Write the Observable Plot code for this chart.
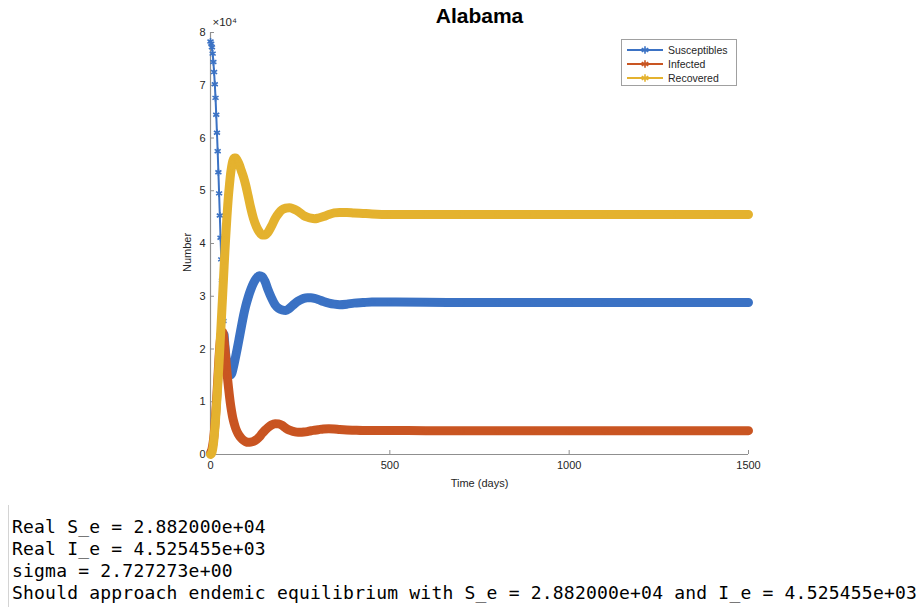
<!DOCTYPE html>
<html><head><meta charset="utf-8">
<script src="https://cdn.jsdelivr.net/npm/d3@7"></script>
<script src="https://cdn.jsdelivr.net/npm/@observablehq/plot@0.6"></script>
<style>
body{margin:0;background:#fff;}
#wrap{position:relative;width:922px;}
#console{margin-left:8px;border-left:1px solid #d4d4d4;padding:11px 0 0 3px;height:91px;font-family:"DejaVu Sans Mono",monospace;font-size:18px;letter-spacing:0.2px;line-height:22px;color:#000;white-space:pre;overflow:hidden;}
</style>
</head><body>
<div id="wrap"></div>
<div id="console"></div>
<script>
const days = [0,2,4,6,8,10,12,14,16,18,20,22,24,26,28,30,32,34,36,38,40,42,44,46,48,50,
  53,56,59,62,66,70,75,80,86,92,98,105,112,120,128,136,144,152,160,
  170,180,190,200,210,220,230,240,250,260,270,280,290,300,
  315,330,345,360,380,400,425,450,
  500,600,700,800,900,1000,1100,1200,1300,1400,1500];
const susceptibles = [78300,77900,77200,76000,74400,72500,70200,67600,64400,61000,57500,53500,49500,45300,41100,37000,33000,29100,25300,22700,20700,19200,17900,17000,16300,15800,
  15300,15100,15300,16000,17200,18500,20200,22000,24200,26300,28100,29800,31200,32500,33400,33900,33700,32800,31300,
  29700,28400,27700,27400,27300,27700,28300,28900,29300,29600,29700,29700,29600,29400,
  29000,28700,28500,28400,28500,28700,28800,28900,
  28900,28850,28820,28820,28820,28820,28820,28820,28820,28820,28820];
const infected = [300,600,1000,1700,2600,3800,5400,7300,9300,11500,13900,16300,18600,20500,22000,22900,23300,23200,22600,21500,20200,18700,17100,15600,14100,12800,
  11000,9400,8100,7000,5900,5000,4200,3600,3100,2700,2450,2300,2350,2500,2800,3300,4000,4600,5100,
  5600,5850,5800,5500,5000,4600,4400,4250,4200,4250,4350,4500,4600,4700,
  4850,4900,4850,4750,4650,4600,4550,4550,
  4530,4525,4525,4525,4525,4525,4525,4525,4525,4525,4525];
const recovered = [0,100,400,1000,1900,3200,4800,6600,8600,10700,12900,15200,17600,20100,22700,25200,27800,30400,33000,35700,38300,40700,43000,45200,47200,49000,
  51200,53200,54600,55600,56200,56200,55700,55000,53800,52600,51100,49000,46800,44700,43200,42200,41600,41600,42100,
  43300,44700,45700,46400,46700,46800,46600,46300,45800,45300,45000,44800,44700,44800,
  45100,45500,45800,45900,45900,45800,45700,45600,
  45500,45500,45500,45500,45500,45500,45500,45500,45500,45500,45500];
const seriesNames = ["Susceptibles","Infected","Recovered"];
const seriesColors = ["#3b72c4","#c95522","#e4b22f"];
const bandFromDay = [38, 0, 0];
const xTicks = [0,500,1000,1500];
const yTicks = [0,10000,20000,30000,40000,50000,60000,70000,80000];
const titleText = "Alabama";
const xLabel = "Time (days)";
const yLabel = "Number";
const exponentLabel = "×10⁴";
const consoleLines = [
  "Real S_e = 2.882000e+04",
  "Real I_e = 4.525455e+03",
  "sigma = 2.727273e+00",
  "Should approach endemic equilibrium with S_e = 2.882000e+04 and I_e = 4.525455e+03"
];

const values = [susceptibles, infected, recovered];
const rows = [];
seriesNames.forEach((name, k) => days.forEach((d, i) => rows.push({series: name, k, day: d, value: values[k][i]})));

const axisColor = "#8f8f8f";
const marks = [
  Plot.ruleY([0], {stroke: axisColor, strokeWidth: 1.2}),
  Plot.ruleX([0], {stroke: axisColor, strokeWidth: 1.2}),
  Plot.axisX({ticks: xTicks, tickSize: -4, text: null, stroke: axisColor, label: null}),
  Plot.axisY({ticks: yTicks, tickSize: -4, text: null, stroke: axisColor, label: null}),
  Plot.axisX({ticks: xTicks, tickSize: 0, tickPadding: 7, tickFormat: d => String(d), label: null, fill: "#262626", fontSize: 11}),
  Plot.axisY({ticks: yTicks, tickSize: 0, tickPadding: 5, tickFormat: d => String(d / 10000), label: null, fill: "#262626", fontSize: 11})
];
seriesNames.forEach((name, k) => {
  const data = rows.filter(r => r.k === k);
  const band = data.filter(r => r.day >= bandFromDay[k]);
  marks.push(Plot.line(band, {x: "day", y: "value", stroke: seriesColors[k], strokeWidth: 9, curve: "monotone-x", strokeLinejoin: "round", strokeLinecap: "round"}));
  marks.push(Plot.line(data, {x: "day", y: "value", stroke: seriesColors[k], strokeWidth: 2, curve: "monotone-x"}));
  marks.push(Plot.dot(data, {x: "day", y: "value", stroke: seriesColors[k], symbol: "asterisk", r: 3.3, strokeWidth: 1.6}));
});
marks.push(Plot.text([titleText], {frameAnchor: "top", dy: -16, fontWeight: "bold", fontSize: 21, lineAnchor: "middle", fill: "#000"}));
marks.push(Plot.text([exponentLabel], {frameAnchor: "top-left", textAnchor: "start", dx: 2, dy: -10, fontSize: 11.5, lineAnchor: "middle", fill: "#262626"}));
marks.push(Plot.text([yLabel], {frameAnchor: "left", textAnchor: "middle", rotate: -90, dx: -23, dy: 9, fontSize: 11, fill: "#262626"}));
marks.push(Plot.text([xLabel], {frameAnchor: "bottom", textAnchor: "middle", dy: 32, fontSize: 11, fill: "#262626"}));

const chart = Plot.plot({
  width: 922, height: 505,
  marginLeft: 210, marginRight: 174, marginTop: 32, marginBottom: 51,
  x: {domain: [0, 1500]},
  y: {domain: [0, 80000]},
  style: {fontFamily: "'Liberation Sans', Arial, sans-serif", fontSize: "11px", background: "#fff", overflow: "visible"},
  marks
});
const wrap = document.getElementById("wrap");
wrap.appendChild(chart);

// legend
const lg = d3.create("svg").attr("width", 117).attr("height", 48)
  .style("position", "absolute").style("left", "621px").style("top", "39px");
lg.append("rect").attr("x", 0.5).attr("y", 0.5).attr("width", 115).attr("height", 46)
  .attr("fill", "#fff").attr("stroke", "#a0a0a0");
const sym = d3.symbol(d3.symbolAsterisk, 40);
seriesNames.forEach((n, k) => {
  const y = 11 + k * 14;
  lg.append("line").attr("x1", 6).attr("x2", 42).attr("y1", y).attr("y2", y)
    .attr("stroke", seriesColors[k]).attr("stroke-width", 2);
  lg.append("path").attr("d", sym()).attr("transform", `translate(24,${y})`)
    .attr("stroke", seriesColors[k]).attr("stroke-width", 1.6).attr("fill", "none");
  lg.append("text").attr("x", 47).attr("y", y).attr("dy", "0.35em")
    .attr("font-family", "'Liberation Sans', Arial, sans-serif").attr("font-size", 10.5)
    .attr("fill", "#262626").text(n);
});
wrap.appendChild(lg.node());

document.getElementById("console").textContent = consoleLines.join("\n");
</script>
</body></html>
